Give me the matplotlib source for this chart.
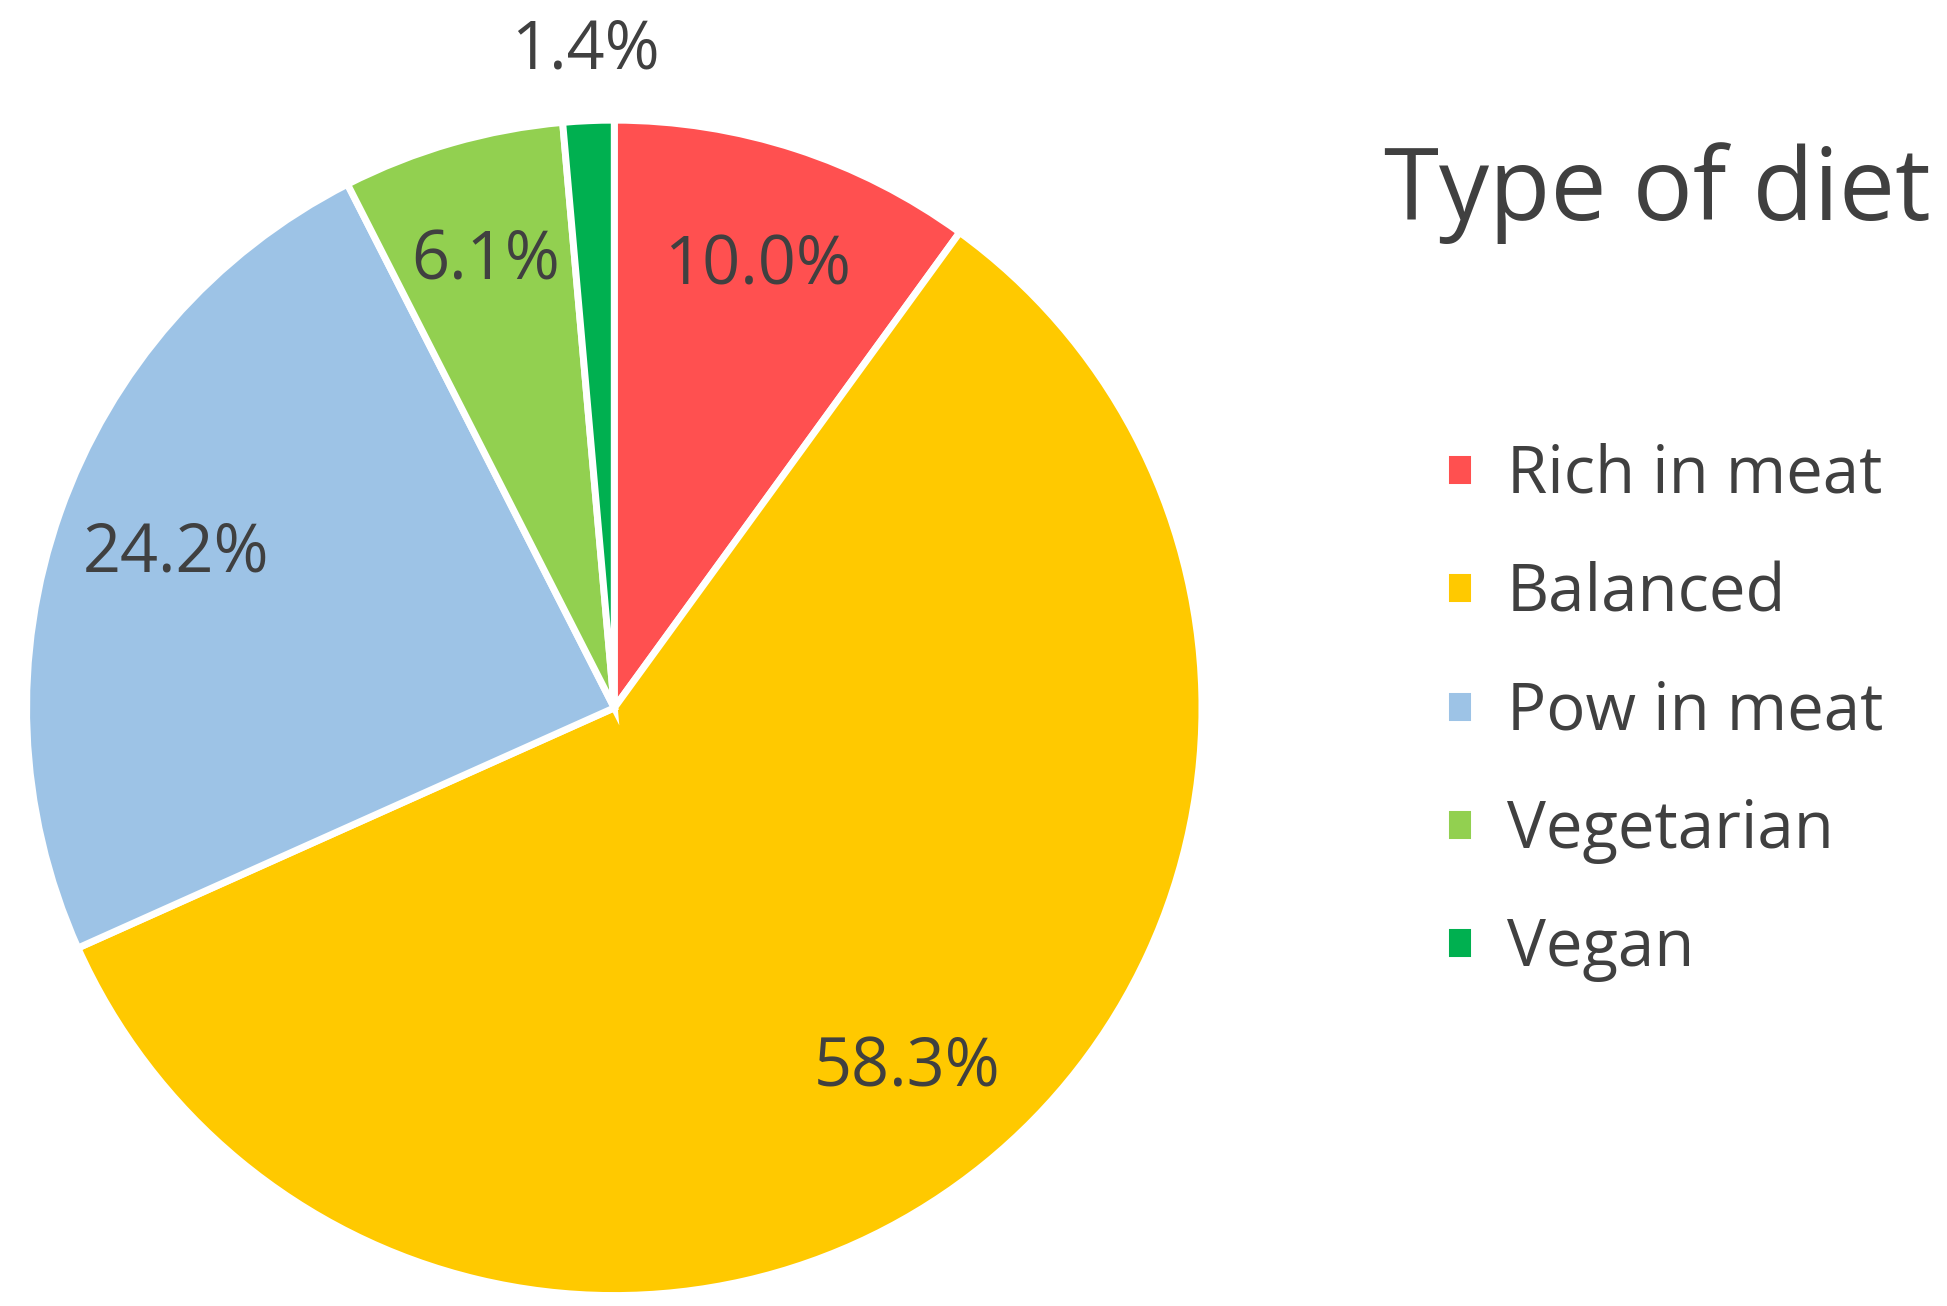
import matplotlib
matplotlib.use("Agg")
import matplotlib.pyplot as plt

categories = ["Rich in meat", "Balanced", "Pow in meat", "Vegetarian", "Vegan"]
values = [10.0, 58.3, 24.2, 6.1, 1.4]
colors = ["#FF5050", "#FFC900", "#9DC3E6", "#92D050", "#00B050"]

plt.rcParams['font.family'] = ['Open Sans', 'DejaVu Sans']
fig = plt.figure(figsize=(19.47, 13.06), dpi=100)
ax = fig.add_axes([0.012, 0.008, 0.607, 0.9])
wedges, texts, autotexts = ax.pie(values, colors=colors, startangle=90, counterclock=False,
                                  autopct='%1.1f%%', pctdistance=0.79,
                                  wedgeprops=dict(edgecolor='white', linewidth=5),
                                  textprops=dict(fontsize=48, color='#404040'))
x, y = autotexts[-1].get_position()
autotexts[-1].set_position((x / 0.79 * 1.12, y / 0.79 * 1.12))
ax.set_aspect('equal')
ax.set_xlim(-1.0, 1.0); ax.set_ylim(-1.0, 1.0)

fig.text(0.711, 0.852, "Type of diet", fontsize=72, color='#404040', va='center', ha='left')
leg = fig.legend(wedges, categories, loc='center left', bbox_to_anchor=(0.742, 0.4545),
                 frameon=False, fontsize=47, borderpad=0, borderaxespad=0,
                 handlelength=0.45, handleheight=0.45, labelspacing=0.8, handletextpad=0.5,
                 labelcolor='#404040')
fig.savefig("out.png", dpi=100)
